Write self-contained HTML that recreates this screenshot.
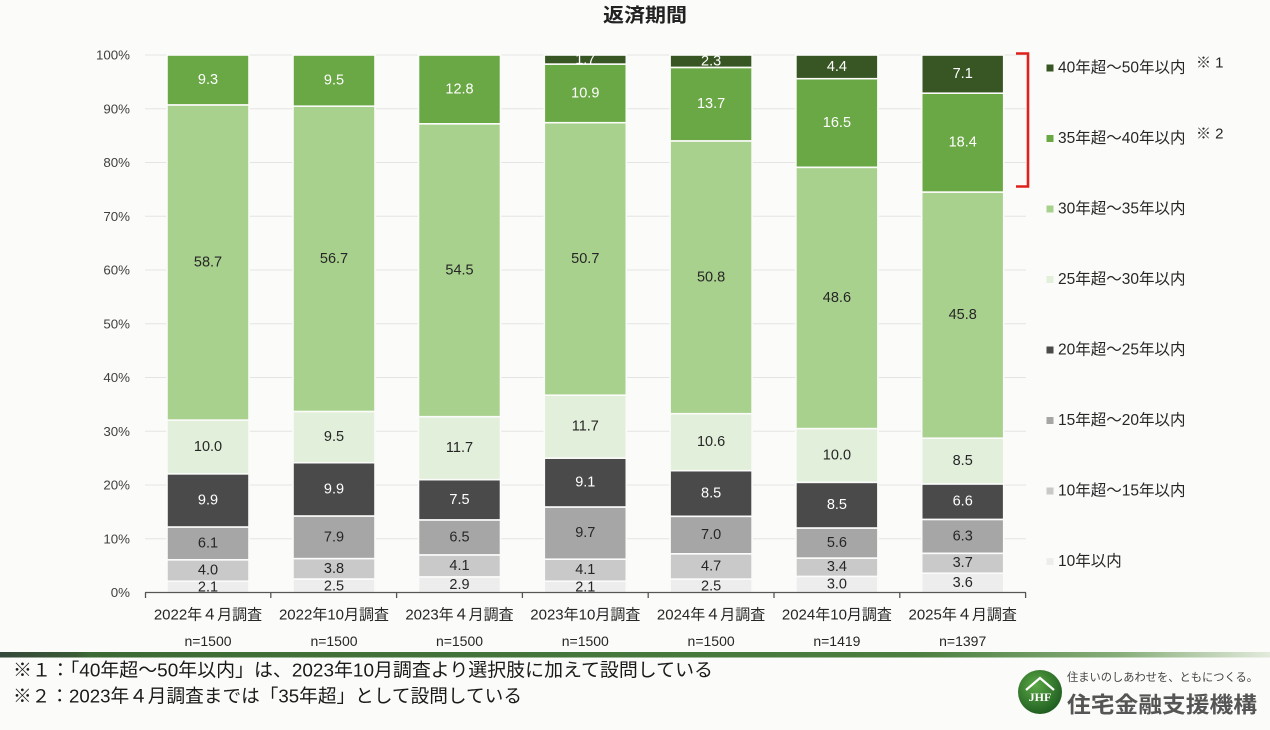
<!DOCTYPE html>
<html><head><meta charset="utf-8"><style>
html,body{margin:0;padding:0;background:#fbfbf9;}
svg{display:block;font-family:"Liberation Sans","Noto Sans CJK JP",sans-serif;}
</style></head><body>
<svg width="1270" height="730" viewBox="0 0 1270 730" xmlns="http://www.w3.org/2000/svg">
<defs>
<linearGradient id="gb" x1="0" x2="1" y1="0" y2="0">
<stop offset="0" stop-color="#34493a"/><stop offset="0.06" stop-color="#3a5a35"/><stop offset="0.07" stop-color="#3c6a35"/><stop offset="0.72" stop-color="#4b7e3f"/><stop offset="0.88" stop-color="#86ad78"/><stop offset="1" stop-color="#e2eadc"/>
</linearGradient>
<radialGradient id="lg" cx="0.4" cy="0.35" r="0.7"><stop offset="0" stop-color="#5aa845"/><stop offset="1" stop-color="#1d5a1f"/></radialGradient>
</defs>
<rect width="1270" height="730" fill="#fbfbf9"/>
<text x="645" y="16" text-anchor="middle" dominant-baseline="central" font-size="19" font-weight="bold" fill="#222" textLength="84" lengthAdjust="spacingAndGlyphs">返済期間</text>

<g stroke="#e4e4e4" stroke-width="1">
<line x1="145" x2="1026" y1="538.75" y2="538.75"/><line x1="145" x2="1026" y1="485" y2="485"/><line x1="145" x2="1026" y1="431.25" y2="431.25"/><line x1="145" x2="1026" y1="377.5" y2="377.5"/><line x1="145" x2="1026" y1="323.75" y2="323.75"/><line x1="145" x2="1026" y1="270" y2="270"/><line x1="145" x2="1026" y1="216.25" y2="216.25"/><line x1="145" x2="1026" y1="162.5" y2="162.5"/><line x1="145" x2="1026" y1="108.75" y2="108.75"/><line x1="145" x2="1026" y1="55" y2="55"/>
</g>
<g font-size="13.3" fill="#404040" text-anchor="end" dominant-baseline="central">
<text x="130" y="592.5">0%</text><text x="130" y="538.75">10%</text><text x="130" y="485">20%</text><text x="130" y="431.25">30%</text><text x="130" y="377.5">40%</text><text x="130" y="323.75">50%</text><text x="130" y="270">60%</text><text x="130" y="216.25">70%</text><text x="130" y="162.5">80%</text><text x="130" y="108.75">90%</text><text x="130" y="55">100%</text>
</g>

<g stroke="#fbfbf9" stroke-width="1.6">
<rect x="167" y="581.2" width="82" height="11.3" fill="#ededed"/>
<rect x="167" y="559.8" width="82" height="21.4" fill="#c9c9c9"/>
<rect x="167" y="527.0" width="82" height="32.8" fill="#a6a6a6"/>
<rect x="167" y="473.8" width="82" height="53.2" fill="#4a4a4a"/>
<rect x="167" y="420.1" width="82" height="53.7" fill="#e2efda"/>
<rect x="167" y="104.9" width="82" height="315.2" fill="#a9d18e"/>
<rect x="167" y="55" width="82" height="49.9" fill="#6aa845"/>
<rect x="293" y="579.0" width="82" height="13.5" fill="#ededed"/>
<rect x="293" y="558.6" width="82" height="20.4" fill="#c9c9c9"/>
<rect x="293" y="516.0" width="82" height="42.6" fill="#a6a6a6"/>
<rect x="293" y="462.7" width="82" height="53.3" fill="#4a4a4a"/>
<rect x="293" y="411.5" width="82" height="51.2" fill="#e2efda"/>
<rect x="293" y="106.2" width="82" height="305.3" fill="#a9d18e"/>
<rect x="293" y="55" width="82" height="51.2" fill="#6aa845"/>
<rect x="418.5" y="576.9" width="82" height="15.6" fill="#ededed"/>
<rect x="418.5" y="554.9" width="82" height="22.0" fill="#c9c9c9"/>
<rect x="418.5" y="519.9" width="82" height="35.0" fill="#a6a6a6"/>
<rect x="418.5" y="479.6" width="82" height="40.3" fill="#4a4a4a"/>
<rect x="418.5" y="416.7" width="82" height="62.9" fill="#e2efda"/>
<rect x="418.5" y="123.8" width="82" height="292.9" fill="#a9d18e"/>
<rect x="418.5" y="55" width="82" height="68.8" fill="#6aa845"/>
<rect x="544.3" y="581.2" width="82" height="11.3" fill="#ededed"/>
<rect x="544.3" y="559.2" width="82" height="22.0" fill="#c9c9c9"/>
<rect x="544.3" y="507.0" width="82" height="52.2" fill="#a6a6a6"/>
<rect x="544.3" y="458.1" width="82" height="48.9" fill="#4a4a4a"/>
<rect x="544.3" y="395.2" width="82" height="62.9" fill="#e2efda"/>
<rect x="544.3" y="122.7" width="82" height="272.5" fill="#a9d18e"/>
<rect x="544.3" y="64.1" width="82" height="58.6" fill="#6aa845"/>
<rect x="544.3" y="55" width="82" height="9.1" fill="#375623"/>
<rect x="670.1" y="579.1" width="82" height="13.4" fill="#ededed"/>
<rect x="670.1" y="553.8" width="82" height="25.3" fill="#c9c9c9"/>
<rect x="670.1" y="516.3" width="82" height="37.5" fill="#a6a6a6"/>
<rect x="670.1" y="470.6" width="82" height="45.7" fill="#4a4a4a"/>
<rect x="670.1" y="413.7" width="82" height="56.9" fill="#e2efda"/>
<rect x="670.1" y="140.9" width="82" height="272.8" fill="#a9d18e"/>
<rect x="670.1" y="67.4" width="82" height="73.5" fill="#6aa845"/>
<rect x="670.1" y="55" width="82" height="12.4" fill="#375623"/>
<rect x="795.9" y="576.4" width="82" height="16.1" fill="#ededed"/>
<rect x="795.9" y="558.1" width="82" height="18.3" fill="#c9c9c9"/>
<rect x="795.9" y="528.0" width="82" height="30.1" fill="#a6a6a6"/>
<rect x="795.9" y="482.3" width="82" height="45.7" fill="#4a4a4a"/>
<rect x="795.9" y="428.6" width="82" height="53.7" fill="#e2efda"/>
<rect x="795.9" y="167.3" width="82" height="261.3" fill="#a9d18e"/>
<rect x="795.9" y="78.7" width="82" height="88.6" fill="#6aa845"/>
<rect x="795.9" y="55" width="82" height="23.7" fill="#375623"/>
<rect x="921.7" y="573.2" width="82" height="19.3" fill="#ededed"/>
<rect x="921.7" y="553.3" width="82" height="19.9" fill="#c9c9c9"/>
<rect x="921.7" y="519.4" width="82" height="33.9" fill="#a6a6a6"/>
<rect x="921.7" y="483.9" width="82" height="35.5" fill="#4a4a4a"/>
<rect x="921.7" y="438.2" width="82" height="45.7" fill="#e2efda"/>
<rect x="921.7" y="192.1" width="82" height="246.1" fill="#a9d18e"/>
<rect x="921.7" y="93.2" width="82" height="98.9" fill="#6aa845"/>
<rect x="921.7" y="55" width="82" height="38.2" fill="#375623"/>
</g>

<g font-size="14.5" text-anchor="middle" dominant-baseline="central">
<g fill="#262626"><text x="208" y="587.5">2.1</text><text x="208" y="570.5">4.0</text><text x="208" y="543.4">6.1</text><text x="208" y="447">10.0</text><text x="208" y="262.5">58.7</text></g>
<g fill="#fff"><text x="208" y="500.4">9.9</text><text x="208" y="80">9.3</text></g>
<g fill="#262626"><text x="334" y="586.3">2.5</text><text x="334" y="568.8">3.8</text><text x="334" y="537.3">7.9</text><text x="334" y="437.1">9.5</text><text x="334" y="258.9">56.7</text></g>
<g fill="#fff"><text x="334" y="489.4">9.9</text><text x="334" y="80.6">9.5</text></g>
<g fill="#262626"><text x="459.5" y="585">2.9</text><text x="459.5" y="565.9">4.1</text><text x="459.5" y="537.4">6.5</text><text x="459.5" y="448.2">11.7</text><text x="459.5" y="270.3">54.5</text></g>
<g fill="#fff"><text x="459.5" y="499.8">7.5</text><text x="459.5" y="89.4">12.8</text></g>
<g fill="#262626"><text x="585.3" y="587.5">2.1</text><text x="585.3" y="570.2">4.1</text><text x="585.3" y="533.1">9.7</text><text x="585.3" y="426.7">11.7</text><text x="585.3" y="259">50.7</text></g>
<g fill="#fff"><text x="585.3" y="482.6">9.1</text><text x="585.3" y="93.4">10.9</text><text x="585.3" y="60">1.7</text></g>
<g fill="#262626"><text x="711.1" y="586.3">2.5</text><text x="711.1" y="566.5">4.7</text><text x="711.1" y="535.1">7.0</text><text x="711.1" y="442.2">10.6</text><text x="711.1" y="277.3">50.8</text></g>
<g fill="#fff"><text x="711.1" y="493.4">8.5</text><text x="711.1" y="104.1">13.7</text><text x="711.1" y="61.5">2.3</text></g>
<g fill="#262626"><text x="836.9" y="584.4">3.0</text><text x="836.9" y="567.2">3.4</text><text x="836.9" y="543">5.6</text><text x="836.9" y="455.4">10.0</text><text x="836.9" y="297.9">48.6</text></g>
<g fill="#fff"><text x="836.9" y="505.2">8.5</text><text x="836.9" y="123">16.5</text><text x="836.9" y="66.8">4.4</text></g>
<g fill="#262626"><text x="962.7" y="582.8">3.6</text><text x="962.7" y="563.2">3.7</text><text x="962.7" y="536.3">6.3</text><text x="962.7" y="461.1">8.5</text><text x="962.7" y="315.1">45.8</text></g>
<g fill="#fff"><text x="962.7" y="501.7">6.6</text><text x="962.7" y="142.6">18.4</text><text x="962.7" y="74.1">7.1</text></g>
</g>

<g stroke="#555" stroke-width="1.3">
<line x1="145" x2="1026" y1="592.5" y2="592.5"/>
<line x1="145.5" x2="145.5" y1="592.5" y2="598"/><line x1="270.8" x2="270.8" y1="592.5" y2="598"/><line x1="396.6" x2="396.6" y1="592.5" y2="598"/><line x1="522.4" x2="522.4" y1="592.5" y2="598"/><line x1="648.2" x2="648.2" y1="592.5" y2="598"/><line x1="774" x2="774" y1="592.5" y2="598"/><line x1="899.8" x2="899.8" y1="592.5" y2="598"/><line x1="1025.6" x2="1025.6" y1="592.5" y2="598"/>
</g>
<g font-size="15" fill="#262626" text-anchor="middle" dominant-baseline="central">
<text x="208" y="615">2022年４月調査</text><text x="334" y="615">2022年10月調査</text><text x="459.5" y="615">2023年４月調査</text><text x="585.3" y="615">2023年10月調査</text><text x="711.1" y="615">2024年４月調査</text><text x="836.9" y="615">2024年10月調査</text><text x="962.7" y="615">2025年４月調査</text>
</g>
<g font-size="14" fill="#262626" text-anchor="middle" dominant-baseline="central">
<text x="208" y="641">n=1500</text><text x="334" y="641">n=1500</text><text x="459.5" y="641">n=1500</text><text x="585.3" y="641">n=1500</text><text x="711.1" y="641">n=1500</text><text x="836.9" y="641">n=1419</text><text x="962.7" y="641">n=1397</text>
</g>

<path d="M1016,53.5 H1028 V186.5 H1016" fill="none" stroke="#e0201b" stroke-width="2.6"/>

<g>
<rect x="1046.5" y="64.5" width="7" height="7" fill="#375623"/>
<rect x="1046.5" y="135" width="7" height="7" fill="#6aa845"/>
<rect x="1046.5" y="205.5" width="7" height="7" fill="#a9d18e"/>
<rect x="1046.5" y="276" width="7" height="7" fill="#e2efda"/>
<rect x="1046.5" y="346.5" width="7" height="7" fill="#4a4a4a"/>
<rect x="1046.5" y="417" width="7" height="7" fill="#a6a6a6"/>
<rect x="1046.5" y="487.5" width="7" height="7" fill="#c9c9c9"/>
<rect x="1046.5" y="558" width="7" height="7" fill="#ededed"/>
</g>
<g font-size="15.5" fill="#262626" dominant-baseline="central">
<text x="1058" y="68">40年超～50年以内</text>
<text x="1058" y="138.5">35年超～40年以内</text>
<text x="1058" y="209">30年超～35年以内</text>
<text x="1058" y="279.5">25年超～30年以内</text>
<text x="1058" y="350">20年超～25年以内</text>
<text x="1058" y="420.5">15年超～20年以内</text>
<text x="1058" y="491">10年超～15年以内</text>
<text x="1058" y="561.5">10年以内</text>
</g>
<g font-size="15" fill="#262626" dominant-baseline="central">
<text x="1196" y="63">※ 1</text>
<text x="1196" y="134">※ 2</text>
</g>

<rect x="0" y="652" width="1270" height="5.5" fill="url(#gb)"/>
<g font-size="18.5" fill="#1a1a1a" dominant-baseline="central">
<text x="13" y="670" textLength="700" lengthAdjust="spacingAndGlyphs">※１：「40年超～50年以内」は、2023年10月調査より選択肢に加えて設問している</text>
<text x="13" y="696" textLength="509" lengthAdjust="spacingAndGlyphs">※２：2023年４月調査までは「35年超」として設問している</text>
</g>

<circle cx="1040" cy="692" r="22" fill="url(#lg)"/>
<path d="M1026,690 L1040,678 L1054,690" fill="none" stroke="#fff" stroke-width="2.2"/>
<text x="1040" y="697" text-anchor="middle" dominant-baseline="central" font-size="12" font-weight="bold" fill="#fff" font-family="Liberation Serif, serif">JHF</text>
<text x="1067" y="678" dominant-baseline="central" font-size="11.3" fill="#444" textLength="191" lengthAdjust="spacingAndGlyphs">住まいのしあわせを、ともにつくる。</text>
<text x="1067" y="705" dominant-baseline="central" font-size="22" font-weight="bold" fill="#555" textLength="190" lengthAdjust="spacingAndGlyphs">住宅金融支援機構</text>
</svg>
</body></html>
